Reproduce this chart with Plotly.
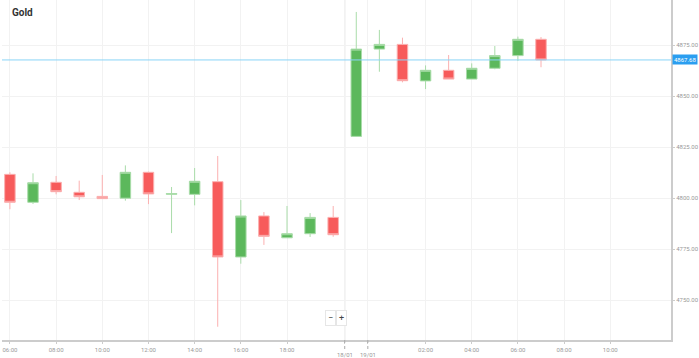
import plotly.graph_objects as go

# Candle data (hourly), index positions on a gapless category-like axis
labels = ["16/01 06:00", "16/01 07:00", "16/01 08:00", "16/01 09:00", "16/01 10:00",
          "16/01 11:00", "16/01 12:00", "16/01 13:00", "16/01 14:00", "16/01 15:00",
          "16/01 16:00", "16/01 17:00", "16/01 18:00", "16/01 19:00", "16/01 20:00",
          "18/01 23:00", "19/01 00:00", "19/01 01:00", "19/01 02:00", "19/01 03:00",
          "19/01 04:00", "19/01 05:00", "19/01 06:00", "19/01 07:00"]
open_ = [4811.6, 4797.9, 4807.7, 4802.8, 4800.8, 4799.9, 4812.6, 4801.8, 4801.8, 4808.0,
         4771.1, 4791.2, 4780.5, 4782.5, 4790.5, 4830.2, 4873.0, 4875.3, 4857.4, 4862.6,
         4858.3, 4863.6, 4869.8, 4877.8]
high = [4812.6, 4812.1, 4810.8, 4808.5, 4811.3, 4816.0, 4812.9, 4805.4, 4814.7, 4820.6,
        4799.0, 4793.1, 4796.1, 4792.6, 4796.1, 4891.2, 4882.4, 4878.6, 4865.0, 4870.1,
        4866.0, 4874.5, 4879.1, 4878.9]
low = [4794.5, 4797.1, 4801.8, 4799.0, 4799.7, 4798.7, 4797.0, 4782.8, 4796.4, 4736.9,
       4767.8, 4777.0, 4780.5, 4780.9, 4781.0, 4830.0, 4861.9, 4856.7, 4853.4, 4858.3,
       4858.3, 4863.1, 4867.2, 4864.1]
close = [4797.9, 4807.5, 4803.1, 4800.6, 4799.7, 4812.6, 4802.0, 4802.2, 4808.2, 4771.1,
         4791.2, 4781.2, 4782.5, 4790.5, 4782.0, 4873.0, 4875.3, 4857.5, 4862.6, 4858.3,
         4863.6, 4869.8, 4877.8, 4867.68]
current_price = 4867.68

x_tick_pos = [0, 2, 4, 6, 8, 10, 12, 14.5, 15.5, 18, 20, 22, 24, 26]
x_tick_text = ["06:00", "08:00", "10:00", "12:00", "14:00", "16:00", "18:00",
               "", "", "02:00", "04:00", "06:00", "08:00", "10:00"]
date_pos = [14.5, 15.5]
date_text = ["18/01", "19/01"]
y_ticks = [4750, 4775, 4800, 4825, 4850, 4875]

xs = list(range(len(labels)))

fig = go.Figure()
fig.add_trace(go.Candlestick(
    x=xs, open=open_, high=high, low=low, close=close,
    text=labels, hoverinfo="text",
    increasing=dict(fillcolor="#5cb85c", line=dict(color="#a9dca9", width=1)),
    decreasing=dict(fillcolor="#f75b5b", line=dict(color="#fbb0b0", width=1)),
    whiskerwidth=0,
    showlegend=False,
))

# day separator
fig.add_shape(type="line", xref="x", yref="paper", x0=14.5, x1=14.5, y0=0, y1=1,
              line=dict(color="#d0d0d0", width=1), layer="below")
# current price line
fig.add_shape(type="line", xref="paper", yref="y", x0=0, x1=1,
              y0=current_price, y1=current_price,
              line=dict(color="#8ad4f7", width=1))

fig.add_annotation(xref="paper", yref="y", x=1.0, y=current_price, xanchor="left",
                   yanchor="middle", xshift=1, text=f"{current_price:.2f}", showarrow=False,
                   font=dict(family="Roboto", size=6, color="white"),
                   bgcolor="#2a9ef0", borderpad=1)
fig.add_annotation(xref="paper", yref="paper", x=0.012, y=0.985, xanchor="left",
                   yanchor="top", text="<b>Gold</b>", showarrow=False,
                   font=dict(family="Roboto", size=10, color="#333333"))
for dp, dt in zip(date_pos, date_text):
    fig.add_annotation(xref="x", yref="paper", x=dp, y=0, yanchor="top", yshift=-9,
                       text=dt, showarrow=False,
                       font=dict(family="Roboto", size=6, color="#999999"))
    fig.add_shape(type="line", xref="x", yref="paper", x0=dp, x1=dp, y0=0, y1=-0.03,
                  line=dict(color="#aaaaaa", width=1, dash="dot"))
# zoom controls
fig.add_annotation(xref="paper", yref="paper", x=0.4905, y=0.04, text="−", showarrow=False,
                   font=dict(family="Roboto", size=9, color="#444"),
                   bgcolor="white", bordercolor="#e6e6e6", borderwidth=1, borderpad=2)
fig.add_annotation(xref="paper", yref="paper", x=0.5075, y=0.04, text="+", showarrow=False,
                   font=dict(family="Roboto", size=9, color="#444"),
                   bgcolor="white", bordercolor="#e6e6e6", borderwidth=1, borderpad=2)

fig.update_layout(
    width=699, height=358,
    margin=dict(l=2, r=22, t=0, b=18),
    paper_bgcolor="white", plot_bgcolor="white",
    font=dict(family="Roboto", size=6, color="#999999"),
    xaxis=dict(range=[-0.343, 28.63], tickmode="array", tickvals=x_tick_pos,
               ticktext=x_tick_text, showgrid=True, gridcolor="#f2f2f2",
               showline=True, linecolor="#cccccc", linewidth=2, ticks="outside",
               ticklen=2, tickcolor="#cccccc", rangeslider=dict(visible=False),
               zeroline=False, tickfont=dict(size=6, color="#999999"),
               ticklabelstandoff=1),
    yaxis=dict(range=[4730.4, 4897.06], side="right", tickmode="array",
               tickvals=y_ticks, ticktext=[f"{v:.2f}" for v in y_ticks],
               showgrid=True, gridcolor="#f2f2f2", showline=True, linecolor="#cccccc",
               linewidth=2, ticks="outside", ticklen=2, tickcolor="#cccccc",
               zeroline=False, tickfont=dict(size=6, color="#999999"),
               ticklabelstandoff=0),
    boxgap=0.35,
)

fig.write_html("out.html", config={"displayModeBar": False},
               post_script="document.body.style.margin='0';")
